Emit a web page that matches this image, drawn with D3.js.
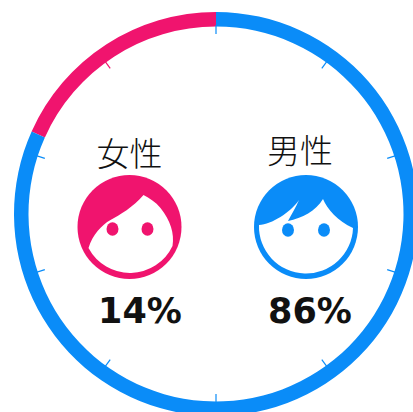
<!DOCTYPE html>
<html><head><meta charset="utf-8">
<style>html,body{margin:0;padding:0;background:#fff;overflow:hidden}svg{display:block}</style>
<script src="https://cdn.jsdelivr.net/npm/d3@7"></script></head>
<body><svg id="c" width="413" height="412"></svg>
<script>
const categories = ["女性", "男性"];
const labelValues = [14, 86];
const ringShares = [18.3, 81.7];
const tickValues = [0, 10, 20, 30, 40, 50, 60, 70, 80, 90];
const colors = ["#f0146e", "#0a8cf8"];

const svg = d3.select("#c");
const root = svg.append("g").attr("transform", "translate(216,214)");
const angle = d3.scaleLinear().domain([0, 100]).range([0, 2 * Math.PI]);
const pie = d3.pie().value(d => d).sort(null)
  .startAngle(-angle(ringShares[0])).endAngle(2 * Math.PI - angle(ringShares[0]));
const arc = d3.arc().innerRadius(187.5).outerRadius(202);
root.selectAll("path.slice").data(pie(ringShares)).join("path")
  .attr("class", "slice").attr("d", arc).attr("fill", (d, i) => colors[i]);

const tickColor = v => (v > 100 - ringShares[0]) ? colors[0] : colors[1];
root.selectAll("line.tick").data(tickValues).join("line")
  .attr("class", "tick")
  .attr("x1", v => Math.sin(angle(v)) * 189).attr("y1", v => -Math.cos(angle(v)) * 189)
  .attr("x2", v => Math.sin(angle(v)) * 180).attr("y2", v => -Math.cos(angle(v)) * 180)
  .attr("stroke", tickColor).attr("stroke-width", 1.2);

const faceX = d3.scalePoint().domain(categories).range([129.5, 306]);
const labelX = { "女性": 129.5, "男性": 300 };
const labelY = { "女性": 166, "男性": 163 };
const pctX = { "女性": 140, "男性": 310 };

const facePaths = {
  "女性": "M14,-32 C4,-20 -10,-12 -19,-7 C-28,-2 -37,8 -41,21 A47,47 0 0 0 43,19 C45,6 41,-6 31,-19 C26,-25 20,-29 14,-32 Z",
  "男性": "M-47,-2 C-34,-3 -16,-14 -7,-27 C-10,-20 -15,-12 -18,-6 C-4,-9 10,-16 17,-28 C21,-18 32,-6 47,1 A47,47 0 0 1 -47,-2 Z"
};
const eyes = { "女性": [[-17, 2], [18, 2]], "男性": [[-18, 3], [18, 3]] };

categories.forEach((c, i) => {
  const g = svg.append("g").attr("transform", `translate(${faceX(c)},227)`);
  g.append("circle").attr("r", 52).attr("fill", colors[i]);
  g.append("path").attr("d", facePaths[c]).attr("fill", "#fff");
  g.selectAll("ellipse").data(eyes[c]).join("ellipse")
    .attr("cx", d => d[0]).attr("cy", d => d[1]).attr("rx", 6).attr("ry", 6.8).attr("fill", colors[i]);
  svg.append("text").attr("x", labelX[c]).attr("y", labelY[c]).attr("text-anchor", "middle")
    .attr("font-family", "'Noto Sans CJK JP'").attr("font-weight", 300).attr("font-size", 33)
    .attr("fill", "#111").text(c);
  svg.append("text").attr("x", pctX[c]).attr("y", 323).attr("text-anchor", "middle")
    .attr("font-family", "'DejaVu Sans'").attr("font-weight", 700).attr("font-size", 35)
    .attr("fill", "#111").text(labelValues[i] + "%");
});
</script></body></html>
